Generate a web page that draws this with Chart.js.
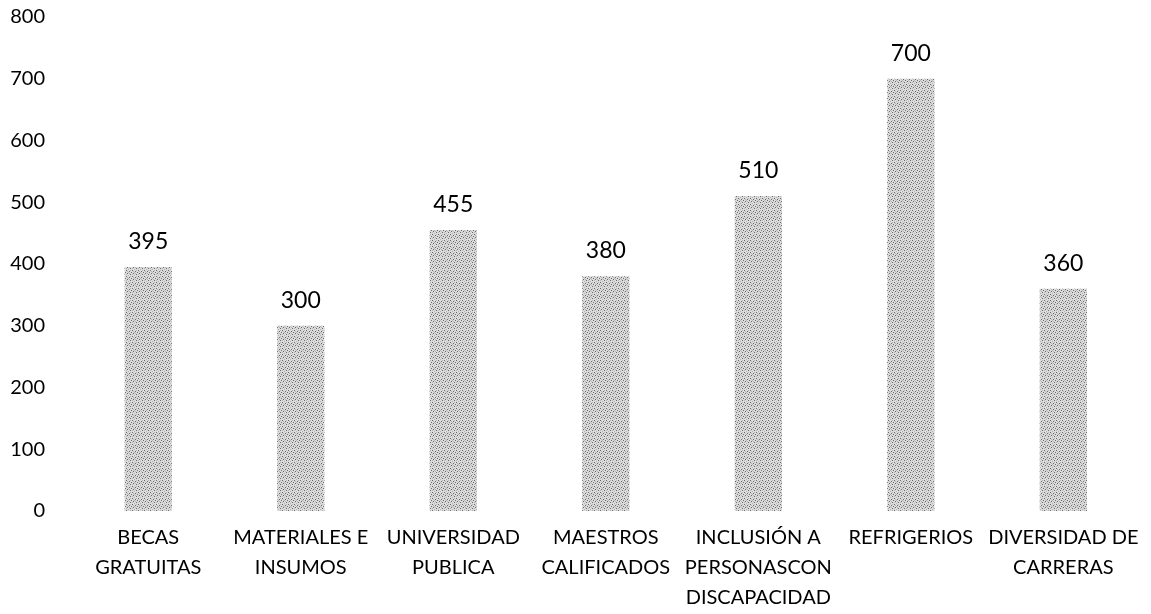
<!DOCTYPE html>
<html>
<head>
<meta charset="utf-8">
<script src="https://cdn.jsdelivr.net/npm/chart.js@4"></script>
<style>
  html, body { margin: 0; padding: 0; background: #fff; }
  #wrap { width: 1151px; height: 614px; }
</style>
</head>
<body>
<div id="wrap"><canvas id="grafico" width="1151" height="614"></canvas></div>
<script>
// ---------------- datos ----------------
const categorias = [
    ['BECAS', 'GRATUITAS'],
    ['MATERIALES E', 'INSUMOS'],
    ['UNIVERSIDAD', 'PUBLICA'],
    ['MAESTROS', 'CALIFICADOS'],
    ['INCLUSIÓN A', 'PERSONASCON', 'DISCAPACIDAD'],
    ['REFRIGERIOS'],
    ['DIVERSIDAD DE', 'CARRERAS']
];
const valores = [395, 300, 455, 380, 510, 700, 360];
const ticksY = [0, 100, 200, 300, 400, 500, 600, 700, 800];

// ---------------- textura gris de las barras ----------------
function texturaGris() {
    const c = document.createElement('canvas');
    c.width = 6; c.height = 6;
    const g = c.getContext('2d');
    g.fillStyle = '#dcdcdc';
    g.fillRect(0, 0, 6, 6);
    g.fillStyle = '#6a6a6a';
    [[0,0],[3,1],[1,3],[4,4],[5,2]].forEach(p => g.fillRect(p[0], p[1], 1, 1));
    g.fillStyle = '#b4b4b4';
    [[1,1],[4,0],[0,4],[3,3],[2,5],[2,2]].forEach(p => g.fillRect(p[0], p[1], 1, 1));
    return g.createPattern(c, 'repeat');
}

// ---------------- etiquetas de valor ----------------
const etiquetasValor = {
    id: 'etiquetasValor',
    afterDatasetsDraw(chart) {
        const ctx = chart.ctx;
        const meta = chart.getDatasetMeta(0);
        ctx.save();
        ctx.font = '23px Lato';
        ctx.fillStyle = '#000';
        ctx.textAlign = 'center';
        ctx.textBaseline = 'bottom';
        meta.data.forEach((barra, i) => {
            ctx.fillText(valores[i], barra.x, barra.y - 14);
        });
        ctx.restore();
    }
};

const ctxGrafico = document.getElementById('grafico');

new Chart(ctxGrafico, {
    type: 'bar',
    data: {
        labels: categorias,
        datasets: [{
            label: '',
            data: valores,
            backgroundColor: texturaGris(),
            borderWidth: 0,
            barPercentage: 0.31,
            categoryPercentage: 1
        }]
    },
    options: {
        responsive: false,
        animation: false,
        layout: {
            padding: { left: 0, right: 7, top: 17, bottom: -11 }
        },
        scales: {
            y: {
                min: 0,
                max: 800,
                afterBuildTicks: (eje) => {
                    eje.ticks = ticksY.map(v => ({ value: v }));
                },
                afterFit: (eje) => {
                    // ancho fijo del eje y sin relleno extra arriba/abajo
                    eje.width = 72;
                    eje.paddingTop = 0;
                    eje.paddingBottom = 0;
                },
                ticks: {
                    color: '#000',
                    padding: 27,
                    font: { family: 'Lato', size: 20 }
                },
                grid: { display: false, drawTicks: false },
                border: { display: false }
            },
            x: {
                ticks: {
                    color: '#000',
                    padding: 12,
                    maxRotation: 0,
                    autoSkip: false,
                    font: { family: 'Lato', size: 20, lineHeight: 1.5 }
                },
                grid: { display: false, drawTicks: false },
                border: { display: false }
            }
        },
        plugins: {
            legend: { display: false },
            tooltip: { enabled: false }
        }
    },
    plugins: [etiquetasValor]
});
</script>
</body>
</html>
